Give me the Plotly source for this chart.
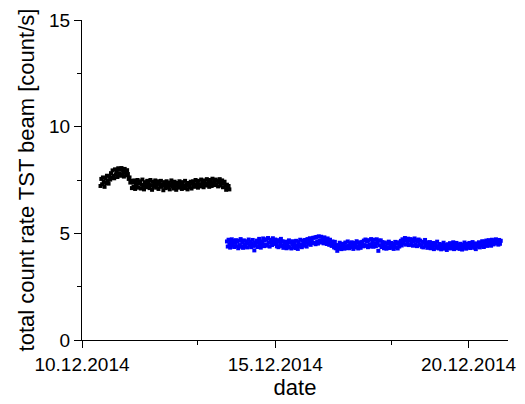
import pandas as pd
import plotly.graph_objects as go

# Measurement runs, sampled every 30 minutes (count rate in count/s)
SAMPLE_STEP = "30min"
RUN1_START = "2014-12-10 11:30"
RUN2_START = "2014-12-13 18:00"

run1_rate = [
    7.22, 7.55, 7.30, 7.62, 7.41, 7.18, 7.58, 7.36, 7.70, 7.47, 7.33, 7.66,
    7.52, 7.82, 7.60, 7.95, 7.70, 7.58, 8.00, 7.76, 7.92, 7.64, 8.05, 7.80,
    7.98, 7.70, 8.06, 7.74, 7.90, 7.66, 8.02, 7.84, 7.72, 7.96, 7.78, 7.55,
    7.62, 7.38, 7.46, 7.12, 7.40, 7.20, 7.48, 7.08, 7.36, 7.26, 7.50, 7.14,
    7.34, 7.44, 7.10, 7.28, 7.52, 7.22, 7.06, 7.40, 7.30, 7.16, 7.46, 7.24,
    7.38, 7.12, 7.50, 7.26, 7.04, 7.42, 7.20, 7.34, 7.48, 7.14, 7.30, 7.44,
    7.08, 7.36, 7.22, 7.46, 7.18, 7.28, 7.02, 7.40, 7.24, 7.12, 7.44, 7.30,
    7.16, 7.38, 7.06, 7.26, 7.48, 7.20, 7.34, 7.10, 7.42, 7.22, 7.04, 7.36,
    7.28, 7.14, 7.44, 7.18, 7.32, 7.08, 7.40, 7.24, 7.12, 7.46, 7.20, 7.30,
    7.06, 7.36, 7.26, 7.16, 7.42, 7.10, 7.32, 7.44, 7.18, 7.28, 7.50, 7.22,
    7.38, 7.14, 7.46, 7.30, 7.20, 7.52, 7.26, 7.40, 7.16, 7.48, 7.34, 7.24,
    7.54, 7.28, 7.42, 7.18, 7.50, 7.36, 7.22, 7.56, 7.32, 7.44, 7.26, 7.52,
    7.30, 7.46, 7.20, 7.40, 7.54, 7.24, 7.36, 7.48, 7.16, 7.34, 7.42, 7.22,
    7.04, 7.28, 7.12, 7.22, 7.06,
]

run2_rate = [
    4.62, 4.38, 4.70, 4.47, 4.33, 4.58, 4.72, 4.42, 4.64, 4.36, 4.55, 4.68,
    4.40, 4.60, 4.30, 4.66, 4.45, 4.73, 4.37, 4.56, 4.32, 4.67, 4.48, 4.39,
    4.63, 4.34, 4.54, 4.71, 4.43, 4.61, 4.35, 4.50, 4.69, 4.41, 4.20, 4.57,
    4.44, 4.66, 4.36, 4.59, 4.74, 4.46, 4.33, 4.62, 4.51, 4.76, 4.40, 4.68,
    4.48, 4.72, 4.42, 4.78, 4.56, 4.38, 4.70, 4.60, 4.45, 4.77, 4.52, 4.64,
    4.71, 4.50, 4.39, 4.68, 4.35, 4.62, 4.47, 4.74, 4.41, 4.63, 4.32, 4.55,
    4.40, 4.61, 4.30, 4.52, 4.38, 4.67, 4.34, 4.57, 4.29, 4.49, 4.63, 4.36,
    4.54, 4.31, 4.65, 4.43, 4.27, 4.59, 4.39, 4.70, 4.47, 4.35, 4.66, 4.50,
    4.42, 4.69, 4.56, 4.38, 4.73, 4.51, 4.64, 4.77, 4.46, 4.70, 4.58, 4.79,
    4.55, 4.80, 4.49, 4.83, 4.62, 4.52, 4.86, 4.66, 4.57, 4.84, 4.60, 4.78,
    4.53, 4.81, 4.63, 4.72, 4.50, 4.76, 4.58, 4.46, 4.70, 4.54, 4.41, 4.62,
    4.48, 4.34, 4.60, 4.30, 4.45, 4.18, 4.42, 4.29, 4.56, 4.37, 4.26, 4.51,
    4.33, 4.49, 4.28, 4.57, 4.40, 4.31, 4.62, 4.43, 4.30, 4.54, 4.36, 4.58,
    4.41, 4.27, 4.55, 4.34, 4.47, 4.63, 4.38, 4.29, 4.58, 4.44, 4.32, 4.52,
    4.60, 4.39, 4.66, 4.45, 4.71, 4.41, 4.62, 4.35, 4.68, 4.49, 4.38, 4.73,
    4.46, 4.64, 4.37, 4.70, 4.52, 4.40, 4.72, 4.55, 4.18, 4.66, 4.44, 4.67,
    4.36, 4.59, 4.42, 4.30, 4.57, 4.39, 4.28, 4.53, 4.35, 4.61, 4.31, 4.47,
    4.55, 4.33, 4.50, 4.27, 4.44, 4.60, 4.34, 4.52, 4.29, 4.58, 4.38, 4.54,
    4.65, 4.43, 4.72, 4.52, 4.67, 4.78, 4.47, 4.70, 4.56, 4.75, 4.45, 4.66,
    4.73, 4.50, 4.69, 4.42, 4.63, 4.76, 4.48, 4.68, 4.40, 4.61, 4.71, 4.49,
    4.66, 4.44, 4.37, 4.60, 4.34, 4.55, 4.69, 4.41, 4.58, 4.32, 4.52, 4.39,
    4.59, 4.30, 4.46, 4.36, 4.55, 4.26, 4.44, 4.53, 4.32, 4.61, 4.40, 4.29,
    4.50, 4.37, 4.25, 4.47, 4.33, 4.56, 4.28, 4.45, 4.38, 4.22, 4.49, 4.31,
    4.42, 4.54, 4.29, 4.47, 4.35, 4.58, 4.26, 4.44, 4.39, 4.55, 4.30, 4.48,
    4.36, 4.27, 4.51, 4.40, 4.24, 4.46, 4.33, 4.57, 4.41, 4.28, 4.50, 4.35,
    4.44, 4.55, 4.31, 4.49, 4.37, 4.59, 4.40, 4.32, 4.53, 4.26, 4.46, 4.38,
    4.49, 4.58, 4.34, 4.55, 4.42, 4.63, 4.45, 4.36, 4.61, 4.47, 4.66, 4.41,
    4.54, 4.68, 4.46, 4.63, 4.42, 4.70, 4.57, 4.48, 4.66, 4.52, 4.72, 4.55,
    4.62, 4.47, 4.69, 4.51, 4.65,
]

# Axis ticks
x_major_ticks = ["2014-12-10", "2014-12-15", "2014-12-20"]
x_major_labels = ["10.12.2014", "15.12.2014", "20.12.2014"]
x_minor_ticks = ["2014-12-13", "2014-12-18"]
x_range = ["2014-12-10 00:00", "2014-12-21 00:30"]
y_major_ticks = [0, 5, 10, 15]

run1_time = pd.date_range(RUN1_START, periods=len(run1_rate), freq=SAMPLE_STEP)
run2_time = pd.date_range(RUN2_START, periods=len(run2_rate), freq=SAMPLE_STEP)

FONT = "Liberation Sans, Arial, sans-serif"

fig = go.Figure()
fig.add_trace(go.Scatter(
    x=run1_time, y=run1_rate, mode="markers",
    marker=dict(symbol="square", size=4, color="#000000", line=dict(width=0)),
    showlegend=False,
))
fig.add_trace(go.Scatter(
    x=run2_time, y=run2_rate, mode="markers",
    marker=dict(symbol="square", size=4, color="#0000ff", line=dict(width=0)),
    showlegend=False,
))

axis_common = dict(
    showline=True, linecolor="#000000", linewidth=1.3,
    showgrid=False, zeroline=False, mirror=False,
    ticks="outside", ticklen=7, tickwidth=1.3, tickcolor="#000000",
    tickfont=dict(family=FONT, size=19, color="#000000"),
)

fig.update_xaxes(
    **axis_common,
    type="date", range=x_range,
    tickmode="array", tickvals=x_major_ticks, ticktext=x_major_labels,
    minor=dict(tickmode="array", tickvals=x_minor_ticks, ticks="outside",
               ticklen=4, tickwidth=1.3, tickcolor="#000000", showgrid=False),
    title=dict(text="date", font=dict(family=FONT, size=22, color="#000000"),
               standoff=4),
)
fig.update_yaxes(
    **axis_common,
    range=[0, 15],
    tickmode="array", tickvals=y_major_ticks,
    minor=dict(dtick=2.5, ticks="outside", ticklen=4, tickwidth=1.3,
               tickcolor="#000000", showgrid=False),
    title=dict(text="total count rate TST beam [count/s]",
               font=dict(family=FONT, size=22, color="#000000"), standoff=8),
)

fig.update_layout(
    width=525, height=404,
    margin=dict(l=82, r=9, t=20, b=64),
    paper_bgcolor="#ffffff", plot_bgcolor="#ffffff",
)

fig.write_html("out.html")
